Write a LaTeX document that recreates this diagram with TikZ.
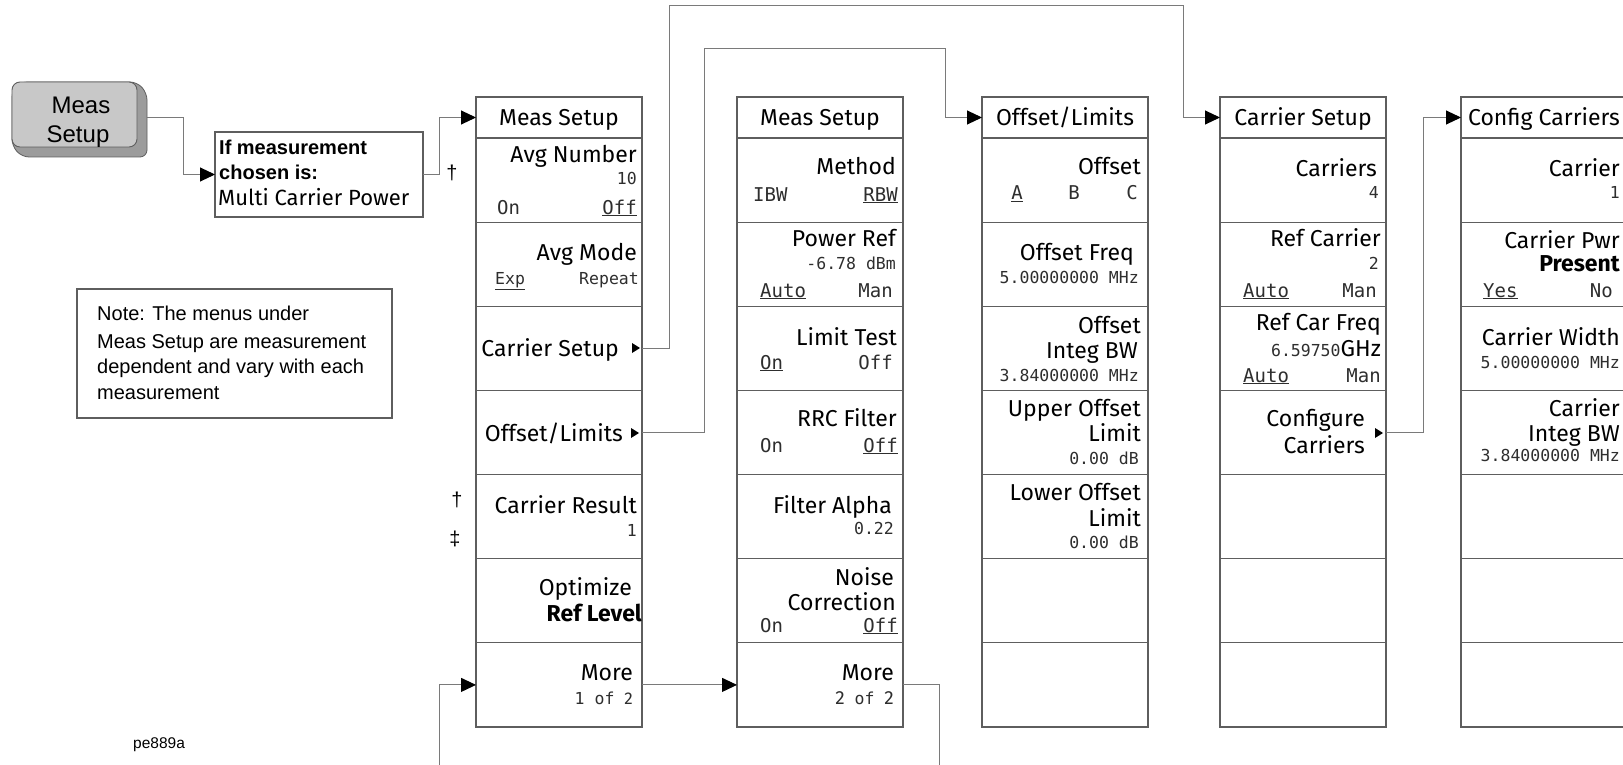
\documentclass[tikz,border=0pt]{standalone}
\usepackage{fontspec}
\setmainfont{Fira Sans}
\newfontfamily\arialf{Liberation Sans}
\newfontfamily\monof{DejaVu Sans Mono}
\usetikzlibrary{arrows.meta}
\definecolor{bordergray}{HTML}{5E5E5E}
\definecolor{linegray}{HTML}{7A7A7A}
\definecolor{keyfill}{HTML}{C8C8C8}
\definecolor{keyshadow}{HTML}{9C9C9C}
\definecolor{valgray}{HTML}{2E2E2E}
\newcommand{\mylab}{\rmfamily\fontsize{23}{27}\selectfont}
\newcommand{\mybold}{\rmfamily\bfseries\fontsize{23}{27}\selectfont}
\newcommand{\myval}{\monof\fontsize{16.5}{20}\selectfont}
\newcommand{\myopt}{\monof\fontsize{19}{22}\selectfont}
\newcommand{\mysopt}{\monof\fontsize{16.5}{20}\selectfont}
\newcommand{\mkmenu}[2]{%
  \node[mtitle] (#1t) at ({#2+83},117.5) {};
  \foreach \i in {1,...,7}{\node[mkey] (#1k\i) at ({#2+83},{138+84.14*(\i-0.5)}) {};}
}
\begin{document}
\begin{tikzpicture}[x=1pt,y=-1pt,
  menubox/.style={draw=bordergray, line width=1.2pt, minimum width=166pt, inner sep=0pt, outer sep=0pt},
  mtitle/.style={menubox, minimum height=41pt},
  mkey/.style={menubox, minimum height=84.14pt},
  ttl/.style={inner sep=0pt, font=\mylab, anchor=base, yshift=-8pt},
  ttlw/.style={inner sep=0pt, font=\mylab, anchor=base west, yshift=-8pt},
  lab/.style={inner sep=0pt, font=\mylab, anchor=base east, yshift=-8pt},
  val/.style={inner sep=0pt, font=\myval, text=valgray, anchor=base east, yshift=-6pt},
  optl/.style={inner sep=0pt, font=\myopt, text=valgray, anchor=base west, yshift=-7pt},
  optr/.style={inner sep=0pt, font=\myopt, text=valgray, anchor=base east, yshift=-7pt},
  optc/.style={inner sep=0pt, font=\myopt, text=valgray, anchor=base, yshift=-7pt},
  soptl/.style={inner sep=0pt, font=\mysopt, text=valgray, anchor=base west, yshift=-6pt},
  soptr/.style={inner sep=0pt, font=\mysopt, text=valgray, anchor=base east, yshift=-6pt},
  atext/.style={inner sep=0pt, font=\arialf\fontsize{20}{24}\selectfont, anchor=base west, yshift=-7pt},
  abold/.style={inner sep=0pt, font=\arialf\bfseries\fontsize{20}{24}\selectfont, anchor=base west, yshift=-7pt},
  dag/.style={inner sep=0pt, font=\arialf\fontsize{20}{24}\selectfont},
  conn/.style={draw=linegray, line width=1pt},
  arr/.style={conn, -{Triangle[length=15pt,width=14pt,color=black]}},
  plainbox/.style={draw=bordergray, line width=1.1pt, inner sep=0pt, outer sep=0pt}
]
\path[use as bounding box] (0,0) rectangle (1623,765);
\clip (0,0) rectangle (1623,765);
\fill[white] (0,0) rectangle (1623,765);

% hardkey
\fill[keyshadow, draw=bordergray, line width=0.8pt, rounded corners=7pt]
  (20,82) -- (137,82) -- (147,93) -- (147,157) -- (22,157) -- (12,146) -- (12,90) -- cycle;
\node[draw=bordergray, line width=0.9pt, fill=keyfill, rounded corners=8pt,
  minimum width=125pt, minimum height=65pt, inner sep=0pt, outer sep=0pt] (hk) at (74.5,114.5) {};
\node[inner sep=0pt, font=\arialf\fontsize{24}{29}\selectfont, anchor=base, yshift=-9pt] (hk1) at (81,105) {Meas};
\node[inner sep=0pt, font=\arialf\fontsize{24}{29}\selectfont, anchor=base, yshift=-9pt] (hk2) at (78,134) {Setup};

% if box
\node[plainbox, minimum width=208pt, minimum height=85pt] (ifbox) at (319,174.5) {};
\node[abold] (if1) at (219,148) {If measurement};
\node[abold] (if2) at (219,172) {chosen is:};
\node[inner sep=0pt, font=\rmfamily\fontsize{22}{26}\selectfont, anchor=base west, yshift=-8pt] (if3) at (218,197) {Multi Carrier Power};

% note box
\node[plainbox, minimum width=315pt, minimum height=129pt] (note) at (234.5,353.5) {};
\node[atext] (n1) at (97,313) {Note: The menus under};
\node[atext] (n2) at (97,341) {Meas Setup are measurement};
\node[atext] (n3) at (97,366) {dependent and vary with each};
\node[atext] (n4) at (97,392) {measurement};

% daggers and figure id
\node[dag] (d1) at (452,173) {†};
\node[dag] (d2) at (457,500) {†};
\node[dag] (d3) at (455,539) {‡};
\node[inner sep=0pt, font=\arialf\fontsize{15.5}{18}\selectfont, anchor=base west, yshift=-5.5pt] (fid) at (133,743) {pe889a};

% menus
\mkmenu{ma}{476}
\mkmenu{mb}{737}
\mkmenu{mc}{982}
\mkmenu{md}{1220}
\mkmenu{me}{1461}

% menu 1
\node[ttl] (a0) at (559,117.5) {Meas Setup};
\node[lab] (a1) at (637,155) {Avg Number};
\node[val] (a2) at (637,178) {10};
\node[optl] (a3) at (497,207) {On};
\node[optr] (a4) at (637,207) {\underline{Off}};
\node[lab] (a5) at (637,252) {Avg Mode};
\node[soptl] (a6) at (495,278) {\underline{Exp}};
\node[soptr] (a7) at (639,278) {Repeat};
\node[lab] (a8) at (619,348) {Carrier Setup};
\fill (632,343) -- (640,348) -- (632,353) -- cycle;
\node[lab] (a9) at (623,433) {Offset/Limits};
\fill (631,428) -- (639,433) -- (631,438) -- cycle;
\node[lab] (a10) at (637,505) {Carrier Result};
\node[val] (a11) at (637,530) {1};
\node[lab] (a12) at (632,587) {Optimize};
\node[lab, font=\mybold] (a13) at (642,613) {Ref Level};
\node[lab] (a14) at (633,672) {More};
\node[val] (a15) at (633,698) {1 of {\rmfamily\fontsize{17}{20}\selectfont 2}};

% menu 2
\node[ttl] (b0) at (820,117.5) {Meas Setup};
\node[lab] (b1) at (896,167) {Method};
\node[optl] (b2) at (753,194) {IBW};
\node[optr] (b3) at (898,194) {\underline{RBW}};
\node[lab] (b4) at (896,238) {Power Ref};
\node[val] (b5) at (896,263) {-6.78 dBm};
\node[optl] (b6) at (760,290) {\underline{Auto}};
\node[optr] (b7) at (893,290) {Man};
\node[lab] (b8) at (897,337) {Limit Test};
\node[optl] (b9) at (760,362) {\underline{On}};
\node[optr] (b10) at (893,362) {Off};
\node[lab] (b11) at (897,418) {RRC Filter};
\node[optl] (b12) at (760,445) {On};
\node[optr] (b13) at (898,445) {\underline{Off}};
\node[lab] (b14) at (892,505) {Filter Alpha};
\node[val] (b15) at (894,528) {0.22};
\node[lab] (b16) at (894,577) {Noise};
\node[lab] (b17) at (896,602) {Correction};
\node[optl] (b18) at (760,625) {On};
\node[optr] (b19) at (898,625) {\underline{Off}};
\node[lab] (b20) at (894,672) {More};
\node[val] (b21) at (894,698) {{\rmfamily\fontsize{19}{22}\selectfont 2} of {\rmfamily\fontsize{19}{22}\selectfont 2}};

% menu 3
\node[ttl] (c0) at (1065,117.5) {Offset/Limits};
\node[lab] (c1) at (1141,167) {Offset};
\node[optc] (c2) at (1017,193) {\underline{A}};
\node[optc] (c3) at (1074,193) {B};
\node[optc] (c4) at (1132,193) {C};
\node[lab] (c5) at (1134,252) {Offset Freq};
\node[val] (c6) at (1139,277) {5.00000000 MHz};
\node[lab] (c7) at (1141,325) {Offset};
\node[lab] (c8) at (1138,350) {Integ BW};
\node[val] (c9) at (1139,375) {3.84000000 MHz};
\node[lab] (c10) at (1141,408) {Upper Offset};
\node[lab] (c11) at (1141,433) {Limit};
\node[val] (c12) at (1139,458) {0.00 dB};
\node[lab] (c13) at (1141,492) {Lower Offset};
\node[lab] (c14) at (1141,518) {Limit};
\node[val] (c15) at (1139,542) {0.00 dB};

% menu 4
\node[ttl] (d0) at (1303,117.5) {Carrier Setup};
\node[lab] (d1l) at (1377,168) {Carriers};
\node[val] (d2l) at (1379,192) {4};
\node[lab] (d3l) at (1381,238) {Ref Carrier};
\node[val] (d4l) at (1379,263) {2};
\node[optl] (d5l) at (1243,290) {\underline{Auto}};
\node[optr] (d6l) at (1377,290) {Man};
\node[lab] (d7l) at (1381,322) {Ref Car Freq};
\node[lab] (d8l) at (1381,348) {{\myval\color{valgray}6.59750}GHz};
\node[optl] (d9l) at (1243,375) {\underline{Auto}};
\node[optr] (d10l) at (1381,375) {Man};
\node[lab] (d11l) at (1365,418) {Configure};
\node[lab] (d12l) at (1365,445) {Carriers};
\fill (1375,428) -- (1383,433) -- (1375,438) -- cycle;

% menu 5
\node[ttl] (e0) at (1544,117.5) {Config Carriers};
\node[lab] (e1) at (1620,168) {Carrier};
\node[val] (e2) at (1620,192) {1};
\node[lab] (e3) at (1620,240) {Carrier Pwr};
\node[lab, font=\mybold] (e4) at (1620,263) {Present};
\node[optl] (e5) at (1483,290) {\underline{Yes}};
\node[optr] (e6) at (1613,290) {No};
\node[lab] (e7) at (1620,337) {Carrier Width};
\node[val] (e8) at (1620,362) {5.00000000 MHz};
\node[lab] (e9) at (1620,408) {Carrier};
\node[lab] (e10) at (1620,433) {Integ BW};
\node[val] (e11) at (1620,455) {3.84000000 MHz};

% connectors
\coordinate (cs1) at (669,6);
\coordinate (cs2) at (1183,6);
\coordinate (ol1) at (704,49);
\coordinate (ol2) at (945,49);
\coordinate (mbot) at (939,765);
\coordinate (mtop) at (439,765);
\draw[arr] ([xshift=10pt,yshift=-3.5pt]hk.east) -| ([xshift=-32pt]ifbox.west) -- (ifbox.west);
\draw[arr] (ifbox.east) -| ([xshift=-37pt]mat.west) -- (mat.west);
\draw[arr] (mak3.east) -| (cs1) -- (cs2) |- (mdt.west);
\draw[arr] (mak4.east) -| (ol1) -- (ol2) |- (mct.west);
\draw[arr] (mak7.east) -- (mbk7.west);
\draw[conn] (mbk7.east) -| (mbot);
\draw[arr] (mtop) |- (mak7.west);
\draw[arr] (mdk4.east) -| ([xshift=-38pt]met.west) -- (met.west);
\end{tikzpicture}
\end{document}
